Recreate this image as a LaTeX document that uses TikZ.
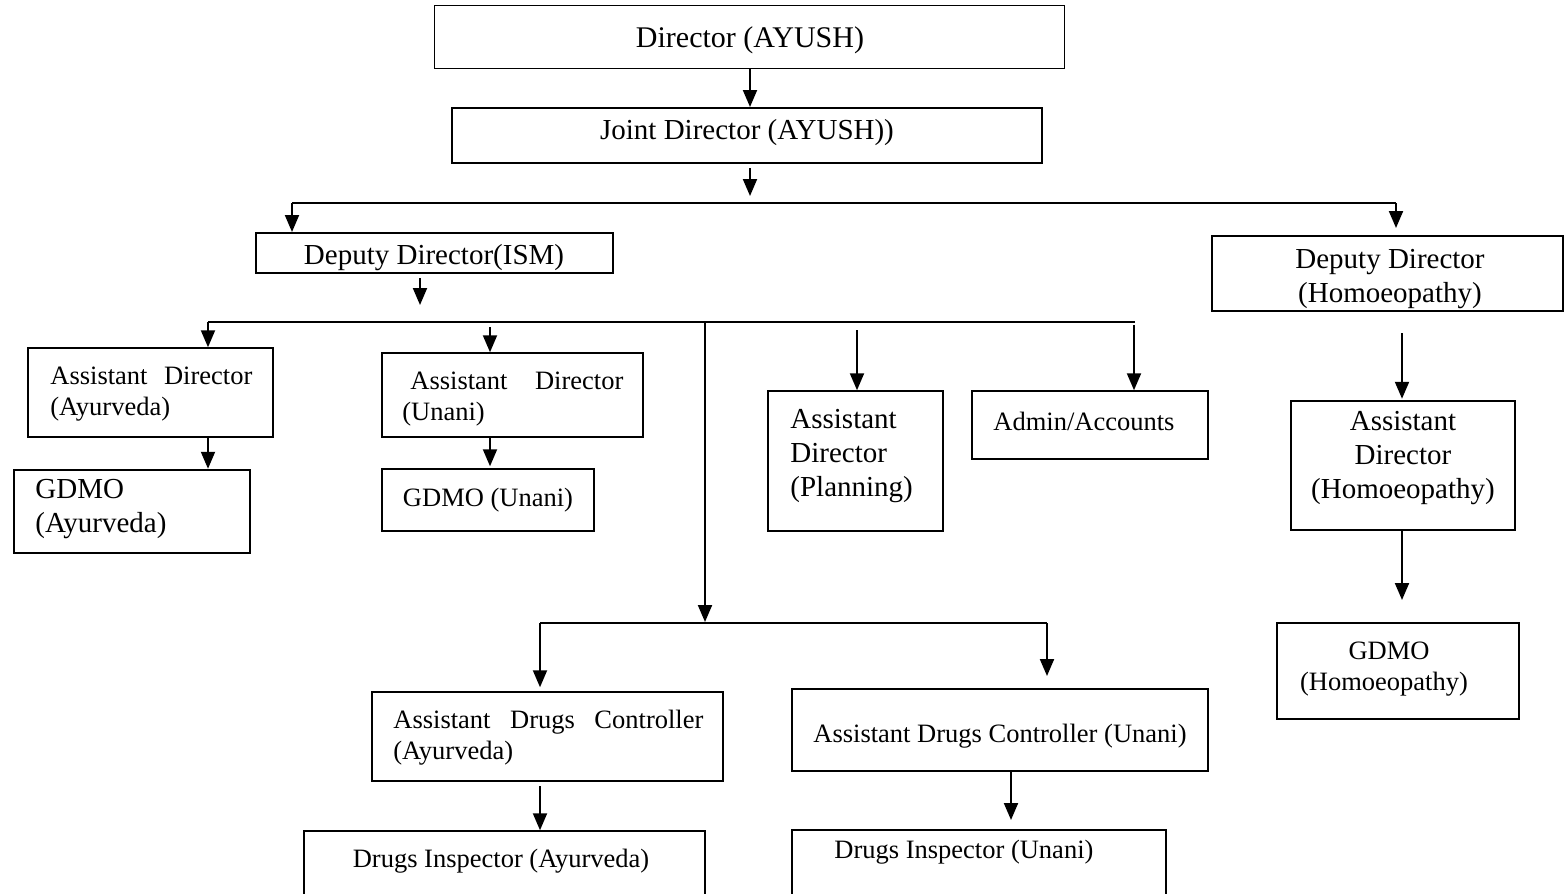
\documentclass[tikz,border=0pt]{standalone}
\usepackage{fontspec}
\setmainfont{Liberation Serif}
\usetikzlibrary{arrows.meta,fit}
\begin{document}
\begin{tikzpicture}[x=0.5pt,y=-0.5pt,
  box/.style={draw, line width=#1, inner sep=0pt},
  box/.default=0.75pt,
  txt/.style={inner sep=0pt, yshift=-1.5pt},
  big/.style={font=\fontsize{14.5}{16.8}\selectfont},
  small/.style={font=\fontsize{13.25}{15.5}\selectfont},
  ln/.style={line width=1pt},
  arr/.style={line width=1pt, -{Triangle[length=8.5pt,width=7pt]}}]
\useasboundingbox (0,0) rectangle (1564,894);
\clip (0,0) rectangle (1564,894);

% boxes
\node[box=0.5pt, fit={(434,5) (1064,68)}] (dir) {};
\node[box=1pt, fit={(452,108) (1042,163)}] (joint) {};
\node[box=1pt, fit={(256,233) (613,273)}] (ddism) {};
\node[box=1pt, fit={(1212,236) (1563,311)}] (ddhom) {};
\node[box, fit={(28,348) (273,437)}] (adayu) {};
\node[box=1.25pt, fit={(14,470) (250,553)}] (gdmoayu) {};
\node[box, fit={(382,353) (643,437)}] (aduna) {};
\node[box, fit={(382,469) (594,531)}] (gdmouna) {};
\node[box, fit={(768,391) (943,531)}] (adplan) {};
\node[box, fit={(972,391) (1208,459)}] (admin) {};
\node[box=1.25pt, fit={(1291,401) (1515,530)}] (adhom) {};
\node[box, fit={(1277,623) (1519,719)}] (gdmohom) {};
\node[box, fit={(372,692) (723,781)}] (adcayu) {};
\node[box, fit={(792,689) (1208,771)}] (adcuna) {};
\node[box, fit={(304,831) (705,920)}] (diayu) {};
\node[box, fit={(792,830) (1166,920)}] (diuna) {};

% texts
\node[txt, font=\fontsize{15}{18}\selectfont] (dir-t) at (750,37) {Director (AYUSH)};
\node[txt, big] (joint-t) at (747,130) {Joint Director (AYUSH))};
\node[txt, big] (ddism-t) at (434,255) {Deputy Director(ISM)};
\node[txt, big, align=center] (ddhom-t) at (1390,276) {Deputy Director\\(Homoeopathy)};
\node[txt, small, anchor=west, align=left, text width=101pt] (adayu-t) at (50,391) {Assistant\hfill Director\\(Ayurveda)};
\node[txt, big, anchor=west, align=left] (gdmoayu-t) at (35,506) {GDMO\\(Ayurveda)};
\node[txt, small, anchor=west, align=left, text width=110.5pt] (aduna-t) at (402,396) {\hspace*{4pt}Assistant\hfill Director\\(Unani)};
\node[txt, small] (gdmouna-t) at (488,497) {GDMO (Unani)};
\node[txt, big, anchor=west, align=left] (adplan-t) at (790,453) {Assistant\\Director\\(Planning)};
\node[txt, small, anchor=west] (admin-t) at (993,418) {Admin/Accounts};
\node[txt, big, align=center] (adhom-t) at (1403,455) {Assistant\\Director\\(Homoeopathy)};
\node[txt, small, align=center] (gdmohom-t) at (1384,666) {\hspace*{5pt}GDMO\\(Homoeopathy)};
\node[txt, small, anchor=west, align=left, text width=155pt] (adcayu-t) at (393,735) {Assistant\hfill Drugs\hfill Controller\\(Ayurveda)};
\node[txt, small] (adcuna-t) at (1000,733) {Assistant Drugs Controller (Unani)};
\node[txt, small] (diayu-t) at (501,858) {Drugs Inspector (Ayurveda)};
\node[txt, small, anchor=west] (diuna-t) at (834,849) {Drugs Inspector (Unani)};

% connector coordinates
\coordinate (j1) at (750,168);
\coordinate (j2) at (750,196);
\coordinate (b1L) at (292,203);
\coordinate (b1R) at (1396,203);
\coordinate (i1) at (420,278);
\coordinate (i2) at (420,305);
\coordinate (b2L) at (208,322);
\coordinate (b2R) at (1135,322);
\coordinate (u1) at (490,327);
\coordinate (v1) at (705,322);
\coordinate (v2) at (705,622);
\coordinate (p1) at (857,330);
\coordinate (a1) at (1134,325);
\coordinate (h1) at (1402,333);
\coordinate (h2) at (1402,600);
\coordinate (b3L) at (540,623);
\coordinate (b3R) at (1047,623);
\coordinate (c1) at (1047,676);
\coordinate (d1) at (540,786);
\coordinate (e1) at (1011,820);

% connectors
\draw[arr] (dir.south -| j1) -- (joint.north -| j1);
\draw[arr] (j1) -- (j2);
\draw[ln] (b1L) -- (b1R);
\draw[arr] (b1L) -- (ddism.north -| b1L);
\draw[arr] (b1R) -- ([yshift=3.5pt]ddhom.north -| b1R);
\draw[arr] (i1) -- (i2);
\draw[ln] (b2L) -- (b2R);
\draw[arr] (b2L) -- (adayu.north -| b2L);
\draw[arr] (u1) -- (aduna.north -| u1);
\draw[arr] (v1) -- (v2);
\draw[arr] (p1) -- (adplan.north -| p1);
\draw[arr] (a1) -- (admin.north -| a1);
\draw[arr] (adayu.south -| b2L) -- (gdmoayu.north -| b2L);
\draw[arr] (aduna.south -| u1) -- ([yshift=1pt]gdmouna.north -| u1);
\draw[arr] (h1) -- ([yshift=0.5pt]adhom.north -| h1);
\draw[arr] (adhom.south -| h1) -- (h2);
\draw[ln] (b3L) -- (b3R);
\draw[arr] (b3L) -- ([yshift=2pt]adcayu.north -| b3L);
\draw[arr] (b3R) -- (c1);
\draw[arr] (d1) -- (diayu.north -| d1);
\draw[arr] (adcuna.south -| e1) -- (e1);
\end{tikzpicture}
\end{document}
